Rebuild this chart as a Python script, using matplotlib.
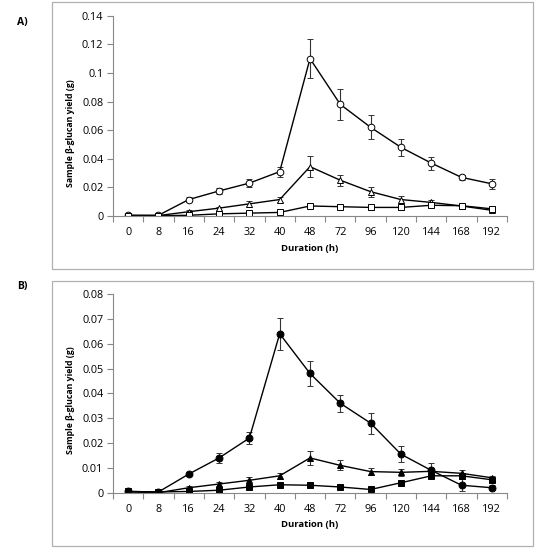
import matplotlib.pyplot as plt
from matplotlib.patches import Rectangle
import numpy as np

# Data
durations = ['0', '8', '16', '24', '32', '40', '48', '72', '96', '120', '144', '168', '192']

# Panel A (open markers)
a_circle = [0.0005, 0.0005, 0.0115, 0.0175, 0.023, 0.031, 0.110, 0.078, 0.062, 0.048, 0.037, 0.027, 0.0225]
a_circle_err = [0.0005, 0.0005, 0.002, 0.002, 0.003, 0.0035, 0.0135, 0.011, 0.0085, 0.006, 0.0045, 0.002, 0.0035]
a_triangle = [0.0003, 0.0003, 0.003, 0.0055, 0.0085, 0.0115, 0.0345, 0.025, 0.017, 0.0115, 0.0095, 0.007, 0.004]
a_triangle_err = [0.0003, 0.0003, 0.001, 0.001, 0.002, 0.0015, 0.0075, 0.004, 0.0035, 0.0025, 0.002, 0.001, 0.001]
a_square = [0.0003, 0.0002, 0.0005, 0.0015, 0.002, 0.0025, 0.007, 0.0065, 0.006, 0.006, 0.0075, 0.0072, 0.005]
a_square_err = [0.0003, 0.0002, 0.0005, 0.0008, 0.0008, 0.0008, 0.0015, 0.0015, 0.0015, 0.0015, 0.0015, 0.001, 0.001]

# Panel B (filled markers)
b_circle = [0.0005, 0.0003, 0.0075, 0.014, 0.022, 0.064, 0.048, 0.036, 0.028, 0.0155, 0.009, 0.003, 0.002]
b_circle_err = [0.0003, 0.0003, 0.0005, 0.002, 0.0025, 0.0065, 0.005, 0.0035, 0.0042, 0.0033, 0.003, 0.0025, 0.001]
b_triangle = [0.0003, 0.0, 0.002, 0.0035, 0.005, 0.0068, 0.014, 0.011, 0.0085, 0.0082, 0.0086, 0.0078, 0.006]
b_triangle_err = [0.0002, 0.0002, 0.0007, 0.001, 0.0012, 0.0013, 0.0027, 0.002, 0.0015, 0.0013, 0.0012, 0.0012, 0.0008]
b_square = [0.0005, 0.0003, 0.0005, 0.001, 0.0023, 0.0032, 0.003, 0.0023, 0.0013, 0.004, 0.0068, 0.0068, 0.0052]
b_square_err = [0.0002, 0.0002, 0.0003, 0.0005, 0.0005, 0.0005, 0.0006, 0.0005, 0.0004, 0.0006, 0.0008, 0.0008, 0.0008]

W, H = 539, 550
fig = plt.figure(figsize=(W / 100, H / 100), dpi=100)
plt.rcParams['font.family'] = ['Open Sans', 'DejaVu Sans']

# panel frames
for top, bot in [(2, 269), (281, 546)]:
    fig.patches.append(Rectangle((52 / W, 1 - bot / H), (533 - 52) / W, (bot - top) / H,
                                 transform=fig.transFigure, fill=False,
                                 edgecolor='#b0b0b0', linewidth=0.9))

fig.text(17 / W, 1 - 22 / H, 'A)', fontsize=7.5, fontweight='bold', va='center')
fig.text(17 / W, 1 - 286 / H, 'B)', fontsize=7.5, fontweight='bold', va='center')

x = np.arange(len(durations))


def draw_panel(ax, series, ymax, ystep, fill, ylab_y):
    for vals, errs, mk in series:
        size = {'o': 4.8, '^': 4.5, 's': 4.0}[mk]
        if fill and mk == 'o':
            size = 5.0
        ax.errorbar(x, vals, yerr=errs, marker=mk, color='black', lw=1.0,
                    markersize=size,
                    markerfacecolor='black' if fill else 'white',
                    markeredgecolor='black', markeredgewidth=0.7,
                    ecolor='#333333', elinewidth=0.8, capsize=2.5, capthick=0.8)
    ax.set_xlim(-0.5, len(durations) - 0.5)
    ax.set_ylim(0, ymax)
    ax.set_yticks(np.arange(0, ymax + ystep / 2, ystep))
    ax.set_yticklabels(['0'] + ['%g' % v for v in np.arange(ystep, ymax + ystep / 2, ystep)])
    ax.set_xticks(x)
    ax.set_xticklabels(durations)
    ax.set_xticks(np.arange(-0.5, len(durations), 1), minor=True)
    ax.tick_params(axis='x', which='major', length=0, pad=8, labelsize=7.8)
    ax.tick_params(axis='x', which='minor', length=4, color='#888888', width=0.8)
    ax.tick_params(axis='y', length=4, color='#888888', width=0.8, labelsize=7.8, pad=3)
    for s in ['top', 'right']:
        ax.spines[s].set_visible(False)
    for s in ['left', 'bottom']:
        ax.spines[s].set_color('#888888')
        ax.spines[s].set_linewidth(0.8)
    ax.set_xlabel('Duration (h)', fontsize=6.8, fontweight='bold', labelpad=4)
    ax.set_ylabel('Sample β-glucan yield (g)', fontsize=6.3, fontweight='bold')
    ax.yaxis.set_label_coords(-0.096, ylab_y)


ax_a = fig.add_axes([113 / W, 1 - 216 / H, (507 - 113) / W, (216 - 15.7) / H])
draw_panel(ax_a, [(a_circle, a_circle_err, 'o'),
                  (a_triangle, a_triangle_err, '^'),
                  (a_square, a_square_err, 's')], 0.14, 0.02, False, 0.414)

ax_b = fig.add_axes([113 / W, 1 - 492.7 / H, (507 - 113) / W, (492.7 - 294) / H])
draw_panel(ax_b, [(b_circle, b_circle_err, 'o'),
                  (b_triangle, b_triangle_err, '^'),
                  (b_square, b_square_err, 's')], 0.08, 0.01, True, 0.464)

fig.savefig('out.png', dpi=100)
